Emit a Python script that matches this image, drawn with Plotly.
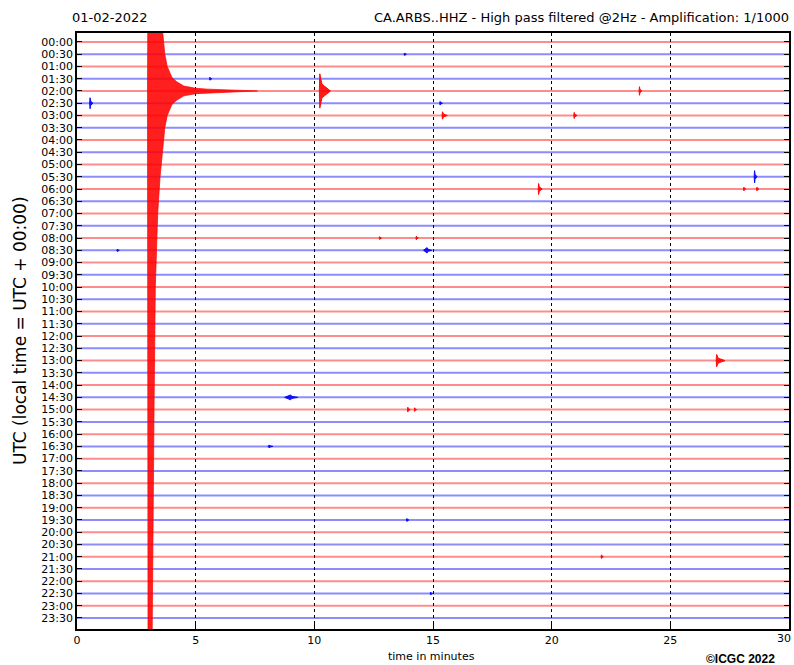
import plotly.graph_objects as go

# ---------------- data ----------------
row_labels = ["%02d:%02d" % (h, m) for h in range(24) for m in (0, 30)]
x_ticks = [0, 5, 10, 15, 20, 25, 30]

# main earthquake, recorded on the 02:00 trace (row index 4): envelope half-amplitude in trace spacings
quake_row = 4
quake_t = [2.97, 3.0, 3.1, 3.17, 3.2, 3.25, 3.3, 3.4, 3.5, 3.6, 3.7, 3.8, 4.0, 4.2, 4.5, 5.0, 5.5, 6.0, 6.5, 7.0, 7.6]
quake_amp = [0, 60, 60, 50, 40, 25, 16, 10, 7, 5, 3, 2, 1.1, 0.75, 0.4, 0.22, 0.15, 0.1, 0.08, 0.05, 0]

# smaller events: trace row, onset time (min), half-amplitude (trace spacings), rise (min), decay (min)
ev_row = [4, 4, 5, 5, 6, 6, 3, 1, 11, 12, 12, 12, 16, 16, 17, 17, 26, 29, 30, 30, 33, 39, 42, 45]
ev_t = [10.23, 23.7, 0.55, 15.3, 15.4, 20.95, 5.6, 13.8, 28.55, 19.45, 28.1, 28.65, 12.75, 14.3, 14.75, 1.7, 26.95, 9.0, 13.94, 14.23, 8.1, 13.9, 22.1, 14.9]
ev_amp = [1.4, 0.35, 0.45, 0.15, 0.3, 0.25, 0.12, 0.1, 0.5, 0.45, 0.15, 0.15, 0.12, 0.15, 0.22, 0.1, 0.5, 0.2, 0.2, 0.15, 0.12, 0.12, 0.15, 0.1]
ev_rise = [0.02, 0.02, 0.02, 0.02, 0.02, 0.02, 0.02, 0.02, 0.02, 0.02, 0.02, 0.02, 0.02, 0.02, 0.15, 0.02, 0.02, 0.25, 0.02, 0.02, 0.05, 0.02, 0.02, 0.02]
ev_decay = [0.45, 0.1, 0.12, 0.1, 0.2, 0.12, 0.08, 0.08, 0.1, 0.15, 0.08, 0.08, 0.08, 0.08, 0.2, 0.08, 0.35, 0.3, 0.1, 0.08, 0.15, 0.08, 0.08, 0.08]

# ---------------- styling ----------------
RED = "rgba(255,0,0,0.45)"
BLUE = "rgba(0,0,255,0.45)"
n_rows = len(row_labels)

fig = go.Figure()

# baselines
for parity, col in ((0, RED), (1, BLUE)):
    xs, ys = [], []
    for i in range(parity, n_rows, 2):
        xs += [x_ticks[0], x_ticks[-1], None]
        ys += [i, i, None]
    fig.add_trace(go.Scatter(x=xs, y=ys, mode="lines", line=dict(color=col, width=2),
                             hoverinfo="skip", showlegend=False))

# small events
for r, t, a, ri, de in zip(ev_row, ev_t, ev_amp, ev_rise, ev_decay):
    col = "rgba(255,0,0,0.9)" if r % 2 == 0 else "rgba(0,0,255,0.9)"
    xs = [t - ri, t, t + de * 0.2, t + de, t + de * 0.2, t, t - ri]
    ys = [r, r - a, r - a * 0.4, r, r + a * 0.4, r + a, r]
    fig.add_trace(go.Scatter(x=xs, y=ys, mode="lines", fill="toself", fillcolor=col,
                             line=dict(color=col, width=1), hoverinfo="skip", showlegend=False))

# main quake envelope
qx = quake_t + quake_t[::-1]
qy = [quake_row - a for a in quake_amp] + [quake_row + a for a in quake_amp[::-1]]
fig.add_trace(go.Scatter(x=qx, y=qy, mode="lines", fill="toself",
                         fillcolor="rgba(255,0,0,0.88)", line=dict(color="rgba(255,0,0,0.7)", width=1),
                         hoverinfo="skip", showlegend=False))

W, H = 794, 665
L, R, T, B = 77, 794 - 789.5, 33, 665 - 629
pw, ph = W - L - R, H - T - B


def px(xp):
    return (xp - L) / pw


def py(yp):
    return (H - B - yp) / ph


# the last x tick label sits at the window edge: draw it as an annotation pulled inside
x_ticktext = [str(v) for v in x_ticks[:-1]] + [""]

fig.update_layout(
    width=W, height=H, margin=dict(l=L, r=R, t=T, b=B, autoexpand=False),
    paper_bgcolor="white", plot_bgcolor="white",
    font=dict(family="DejaVu Sans", color="black", size=11),
    xaxis=dict(range=[0, 30], tickvals=x_ticks, ticktext=x_ticktext,
               showgrid=True, gridcolor="black", griddash="dot", gridwidth=1,
               showline=True, linecolor="black", linewidth=1.5, mirror=True,
               ticks="inside", ticklen=5, tickcolor="black", zeroline=False,
               tickfont=dict(size=11), automargin=False),
    yaxis=dict(range=[47.9, -0.73], tickvals=list(range(n_rows)), ticktext=row_labels,
               showgrid=False, showline=True, linecolor="black", linewidth=1.5, mirror="ticks",
               ticks="inside", ticklen=5, tickcolor="black", zeroline=False,
               tickfont=dict(size=11), automargin=False),
    annotations=[
        dict(text=str(x_ticks[-1]), x=x_ticks[-1], xref="x", y=py(638), yref="paper",
             xanchor="right", yanchor="middle", xshift=4, showarrow=False, font=dict(size=11)),
        dict(text="01-02-2022", x=px(70), y=py(17), xref="paper", yref="paper",
             xanchor="left", yanchor="middle", showarrow=False, font=dict(size=13)),
        dict(text="CA.ARBS..HHZ - High pass filtered @2Hz - Amplification: 1/1000",
             x=px(792), y=py(17), xref="paper", yref="paper",
             xanchor="right", yanchor="middle", showarrow=False, font=dict(size=13)),
        dict(text="UTC (local time = UTC + 00:00)", x=px(20), y=py(331), xref="paper", yref="paper",
             xanchor="center", yanchor="middle", textangle=-90, showarrow=False, font=dict(size=17)),
        dict(text="time in minutes", x=px(432), y=py(656), xref="paper", yref="paper",
             xanchor="center", yanchor="middle", showarrow=False, font=dict(size=11)),
        dict(text="<b>©ICGC 2022</b>", x=px(741), y=py(659), xref="paper", yref="paper",
             xanchor="center", yanchor="middle", showarrow=False,
             font=dict(size=12, family="Liberation Sans")),
    ],
)

# remove the browser's default 8 px body margin so the figure fills the window exactly
fig.write_html("out.html", config={"displayModeBar": False},
               post_script="document.body.style.margin='0';document.body.style.overflow='hidden';")
